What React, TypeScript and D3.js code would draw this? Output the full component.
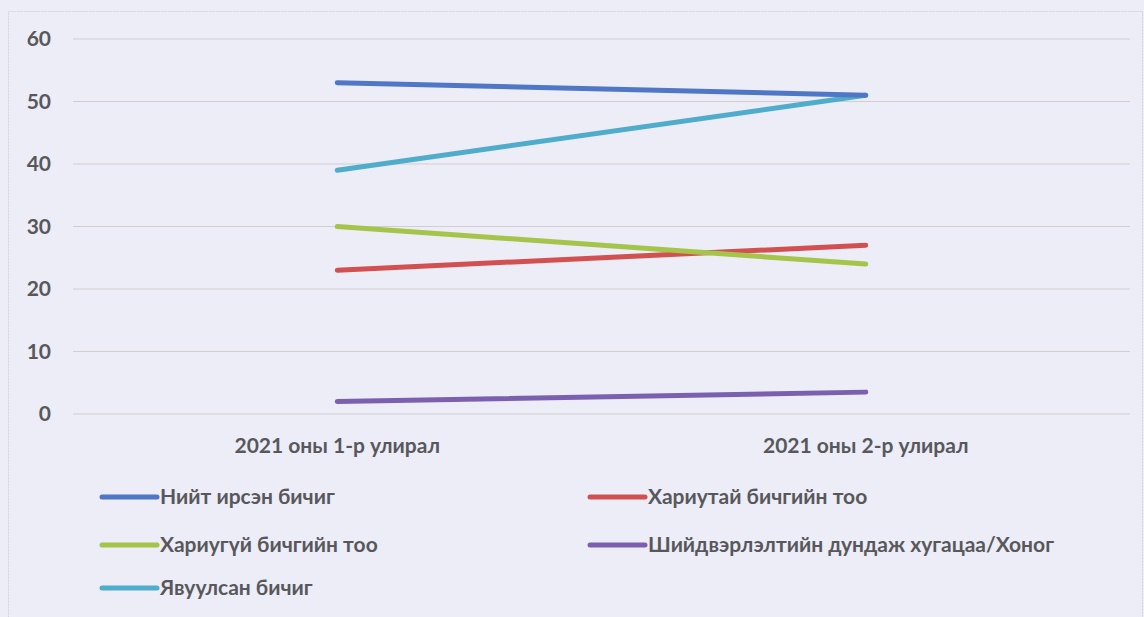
import * as d3 from "d3";
import { useEffect, useRef } from "react";

const categories = ["2021 оны 1-р улирал", "2021 оны 2-р улирал"];
const yTicks = [0, 10, 20, 30, 40, 50, 60];

const seriesNames = [
  "Нийт ирсэн бичиг",
  "Хариутай бичгийн тоо",
  "Хариугүй бичгийн тоо",
  "Шийдвэрлэлтийн дундаж хугацаа/Хоног",
  "Явуулсан бичиг",
];
const niitIrsen = [53, 51];
const hariutai = [23, 27];
const hariugui = [30, 24];
const shiidverlelt = [2, 3.5];
const yavuulsan = [39, 51];

const colors = ["#4f77c6", "#d2504f", "#a5c44a", "#7c60b0", "#4faccb"];

function App() {
  const ref = useRef<SVGSVGElement>(null);

  useEffect(() => {
    const width = 1144;
    const height = 617;
    const margin = { top: 39, right: 14, bottom: 203, left: 73 };
    const svg = d3.select(ref.current);
    svg.selectAll("*").remove();

    // background like the scanned page
    svg.append("rect").attr("width", width).attr("height", height).attr("fill", "#ecedf6");
    svg
      .append("rect")
      .attr("x", 8.5)
      .attr("y", 11.5)
      .attr("width", width - 10)
      .attr("height", height - 5)
      .attr("fill", "none")
      .attr("stroke", "#d4d3dc")
      .attr("stroke-dasharray", "2,1");

    const x = d3
      .scaleBand()
      .domain(categories)
      .range([margin.left, width - margin.right]);
    const y = d3
      .scaleLinear()
      .domain([0, 60])
      .range([height - margin.bottom, margin.top]);

    // grid
    svg
      .append("g")
      .selectAll("line")
      .data(yTicks)
      .join("line")
      .attr("x1", margin.left)
      .attr("x2", width - margin.right)
      .attr("y1", (d) => y(d))
      .attr("y2", (d) => y(d))
      .attr("stroke", "#d3cdd2")
      .attr("stroke-width", 1);

    const font = "Lato, 'Open Sans', sans-serif";
    const textColor = "#58585c";

    // y labels
    svg
      .append("g")
      .selectAll("text")
      .data(yTicks)
      .join("text")
      .attr("x", 51)
      .attr("y", (d) => y(d))
      .attr("dy", "0.35em")
      .attr("text-anchor", "end")
      .attr("font-family", font)
      .attr("font-weight", "bold")
      .attr("font-size", 21)
      .attr("fill", textColor)
      .text((d) => d);

    // x labels
    svg
      .append("g")
      .selectAll("text")
      .data(categories)
      .join("text")
      .attr("x", (d) => x(d)! + x.bandwidth() / 2)
      .attr("y", 453)
      .attr("text-anchor", "middle")
      .attr("font-family", font)
      .attr("font-weight", "bold")
      .attr("font-size", 21)
      .attr("fill", textColor)
      .text((d) => d);

    const allSeries = [niitIrsen, hariutai, hariugui, shiidverlelt, yavuulsan];

    const line = d3
      .line<number>()
      .x((d, i) => x(categories[i])! + x.bandwidth() / 2)
      .y((d) => y(d));

    // teal under blue, red under green
    const drawOrder = [4, 3, 1, 2, 0];
    drawOrder.forEach((k) => {
      svg
        .append("path")
        .datum(allSeries[k])
        .attr("fill", "none")
        .attr("stroke", colors[k])
        .attr("stroke-width", 5)
        .attr("stroke-linecap", "round")
        .attr("d", line);
    });

    // legend
    const legendPos = [
      { x: 102, y: 497 },
      { x: 590, y: 497 },
      { x: 102, y: 545 },
      { x: 590, y: 545 },
      { x: 102, y: 588 },
    ];
    const lg = svg.append("g");
    seriesNames.forEach((name, i) => {
      const p = legendPos[i];
      lg.append("line")
        .attr("x1", p.x)
        .attr("x2", p.x + 55)
        .attr("y1", p.y)
        .attr("y2", p.y)
        .attr("stroke", colors[i])
        .attr("stroke-width", 5)
        .attr("stroke-linecap", "round");
      lg.append("text")
        .attr("x", p.x + 58)
        .attr("y", p.y)
        .attr("dy", "0.35em")
        .attr("font-family", font)
        .attr("font-weight", "bold")
        .attr("font-size", 21)
        .attr("fill", textColor)
        .text(name);
    });
  }, []);

  return (
    <div style={{ position: "absolute", left: 0, top: 0 }}>
      <svg ref={ref} width={1144} height={617} style={{ display: "block" }} />
    </div>
  );
}

export default App;
